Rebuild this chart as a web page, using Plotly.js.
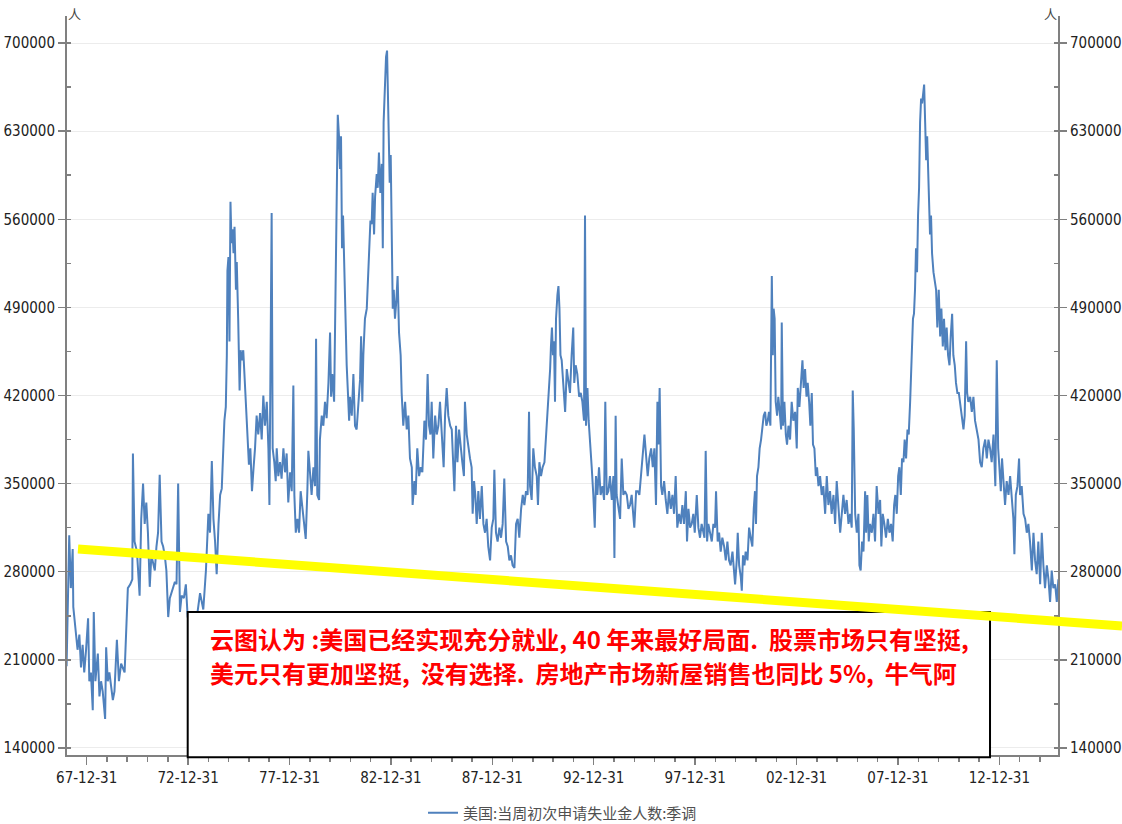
<!DOCTYPE html>
<html>
<head>
<meta charset="utf-8">
<script src="https://cdn.plot.ly/plotly-3.0.1.min.js"></script>
<style>html,body{margin:0;padding:0;background:#fff;}#chart{width:1122px;height:824px;}</style>
</head>
<body>
<div id="chart"></div>
<script>
// Week dates as decimal years
const years = [
1967.01,1967.14,1967.22,1967.31,1967.34,1967.44,1967.55,1967.64,1967.72,1967.80,1967.88,1967.97,
1968.07,1968.13,1968.21,1968.30,1968.35,1968.43,1968.55,1968.63,1968.71,1968.79,1968.91,1968.96,
1969.04,1969.12,1969.29,1969.37,1969.49,1969.59,1969.70,1969.87,1969.95,
1970.03,1970.15,1970.25,1970.28,1970.36,1970.48,1970.56,1970.61,1970.69,1970.78,1970.86,1970.94,
1971.02,1971.11,1971.19,1971.27,1971.36,1971.44,1971.52,1971.60,1971.69,1971.77,1971.85,1971.93,
1972.02,1972.10,1972.18,1972.26,1972.35,1972.43,1972.51,1972.60,1972.68,1972.79,1972.89,1972.98,
1973.20,1973.40,1973.59,1973.75,1973.88,
1974.00,1974.08,1974.17,1974.25,1974.33,1974.41,1974.50,1974.58,1974.66,1974.74,1974.79,1974.86,1974.91,1974.94,1974.99,
1975.04,1975.09,1975.14,1975.19,1975.24,1975.29,1975.36,1975.40,1975.47,1975.54,1975.59,1975.65,1975.72,1975.79,1975.87,1975.93,
1976.00,1976.07,1976.15,1976.23,1976.30,1976.38,1976.46,1976.55,1976.63,1976.71,1976.79,1976.88,1976.96,
1977.01,1977.12,1977.17,1977.25,1977.32,1977.37,1977.45,1977.53,1977.61,1977.70,1977.78,1977.86,1977.94,
1978.03,1978.11,1978.19,1978.24,1978.31,1978.39,1978.47,1978.55,1978.63,1978.73,1978.80,1978.88,1978.93,
1979.01,1979.09,1979.18,1979.26,1979.31,1979.37,1979.46,1979.50,1979.59,1979.67,1979.75,1979.83,1979.92,
1980.00,1980.05,1980.11,1980.20,1980.24,1980.29,1980.33,1980.38,1980.44,1980.49,1980.54,1980.59,1980.64,1980.71,1980.77,1980.82,1980.87,1980.94,1980.98,
1981.07,1981.15,1981.23,1981.31,1981.40,1981.48,1981.53,1981.59,1981.64,1981.72,1981.81,1981.89,1981.94,1981.99,
1982.05,1982.10,1982.17,1982.22,1982.30,1982.35,1982.41,1982.48,1982.55,1982.60,1982.64,1982.71,1982.76,1982.81,1982.86,1982.91,1982.94,1982.99,
1983.04,1983.09,1983.14,1983.20,1983.27,1983.33,1983.40,1983.48,1983.53,1983.61,1983.70,1983.78,1983.86,1983.94,
1984.03,1984.07,1984.16,1984.22,1984.30,1984.39,1984.47,1984.55,1984.65,1984.73,1984.81,1984.88,1984.95,
1985.01,1985.09,1985.18,1985.26,1985.34,1985.42,1985.50,1985.60,1985.67,1985.75,1985.83,1985.92,
1986.00,1986.08,1986.13,1986.21,1986.28,1986.36,1986.44,1986.52,1986.60,1986.65,1986.74,1986.82,1986.90,1986.98,
1987.03,1987.10,1987.16,1987.23,1987.31,1987.39,1987.48,1987.56,1987.64,1987.72,1987.80,1987.89,1987.97,
1988.05,1988.10,1988.18,1988.26,1988.35,1988.43,1988.51,1988.59,1988.68,1988.76,1988.84,1988.92,
1989.00,1989.09,1989.17,1989.25,1989.33,1989.42,1989.50,1989.58,1989.66,1989.74,1989.81,1989.86,1989.94,
1990.02,1990.10,1990.19,1990.25,1990.32,1990.40,1990.48,1990.57,1990.65,1990.73,1990.80,1990.85,1990.89,1990.94,1990.99,
1991.04,1991.09,1991.14,1991.21,1991.26,1991.31,1991.36,1991.42,1991.50,1991.59,1991.67,1991.75,1991.83,1991.91,1991.99,
1992.04,1992.11,1992.19,1992.28,1992.36,1992.44,1992.52,1992.57,1992.62,1992.69,1992.75,1992.82,1992.90,1992.98,
1993.05,1993.11,1993.18,1993.26,1993.34,1993.43,1993.51,1993.57,1993.64,1993.72,1993.80,1993.89,1993.97,
1994.02,1994.08,1994.13,1994.21,1994.30,1994.38,1994.46,1994.54,1994.63,1994.71,1994.79,1994.87,1994.95,
1995.00,1995.09,1995.17,1995.25,1995.33,1995.42,1995.50,1995.66,1995.74,1995.83,1995.91,1995.99,
1996.07,1996.14,1996.19,1996.25,1996.32,1996.38,1996.47,1996.55,1996.63,1996.71,1996.80,1996.88,1996.96,
1997.04,1997.12,1997.21,1997.29,1997.37,1997.45,1997.54,1997.60,1997.67,1997.75,1997.83,1997.91,1997.98,
1998.08,1998.16,1998.24,1998.32,1998.41,1998.46,1998.52,1998.59,1998.65,1998.73,1998.82,1998.90,1998.98,
1999.03,1999.11,1999.18,1999.26,1999.34,1999.43,1999.51,1999.59,1999.67,1999.75,1999.84,1999.92,1999.97,
2000.05,2000.10,2000.17,2000.25,2000.30,2000.36,2000.43,2000.49,2000.58,2000.66,2000.74,2000.82,2000.89,2000.95,
2001.00,2001.05,2001.12,2001.18,2001.25,2001.32,2001.38,2001.45,2001.51,2001.58,2001.64,2001.71,2001.78,2001.83,2001.87,2001.92,2001.97,
2002.04,2002.10,2002.17,2002.24,2002.27,2002.33,2002.40,2002.47,2002.53,2002.60,2002.68,2002.76,2002.84,2002.93,
2003.01,2003.06,2003.14,2003.22,2003.29,2003.35,2003.42,2003.49,2003.55,2003.62,2003.68,2003.75,2003.81,2003.88,2003.95,
2004.01,2004.08,2004.16,2004.24,2004.32,2004.41,2004.49,2004.57,2004.65,2004.73,2004.82,2004.90,2004.98,
2005.06,2005.15,2005.31,2005.39,2005.47,2005.56,2005.64,2005.72,2005.77,2005.82,2005.89,2005.97,
2006.05,2006.10,2006.16,2006.23,2006.30,2006.38,2006.43,2006.49,2006.56,2006.62,2006.71,2006.79,2006.87,2006.95,
2007.04,2007.12,2007.18,2007.25,2007.33,2007.41,2007.50,2007.58,2007.66,2007.74,2007.81,2007.87,2007.94,
2008.01,2008.07,2008.14,2008.20,2008.27,2008.33,2008.40,2008.47,2008.53,2008.60,2008.65,2008.70,2008.74,2008.79,2008.84,2008.89,2008.94,2008.99,
2009.04,2009.09,2009.14,2009.19,2009.24,2009.29,2009.34,2009.39,2009.44,2009.48,2009.53,2009.58,2009.63,2009.68,2009.75,2009.81,2009.88,2009.94,
2010.01,2010.08,2010.14,2010.21,2010.27,2010.34,2010.40,2010.47,2010.54,2010.60,2010.67,2010.73,2010.80,2010.86,2010.93,
2011.00,2011.06,2011.14,2011.23,2011.29,2011.36,2011.41,2011.47,2011.56,2011.64,2011.72,2011.80,2011.88,2011.97,
2012.05,2012.13,2012.21,2012.30,2012.38,2012.46,2012.54,2012.62,2012.71,2012.80,2012.87,2012.94,
2013.00,2013.07,2013.13,2013.20,2013.28,2013.36,2013.45,2013.53,2013.61,2013.69,2013.74,2013.81,2013.89,2013.97,
2014.02,2014.10,2014.19,2014.27,2014.35,2014.43,2014.51,2014.60,2014.68,2014.76,2014.84,2014.92,
2015.01,2015.09,2015.17,2015.25,2015.34,2015.42,2015.50,2015.58,2015.66,2015.75,2015.83,2015.91
];
// 美国:当周初次申请失业金人数:季调 (persons)
const claims = [
205000,309000,267000,298000,252000,237000,218000,230000,204000,222000,200000,218000,
243000,193000,200000,170000,248000,193000,215000,181000,193000,185000,163000,220000,
193000,200000,178000,185000,226000,193000,207000,200000,230000,
267000,270000,274000,374000,304000,296000,278000,261000,322000,350000,318000,335000,
311000,268000,293000,287000,281000,300000,311000,357000,304000,300000,293000,281000,
244000,259000,263000,267000,272000,270000,350000,248000,261000,259000,270000,244000,
235000,240000,263000,250000,281000,
326000,311000,368000,322000,304000,278000,318000,341000,346000,374000,400000,411000,452000,519000,530000,
463000,574000,541000,552000,533000,554000,504000,526000,481000,424000,456000,448000,456000,430000,404000,389000,
365000,378000,344000,363000,378000,404000,389000,406000,385000,420000,396000,415000,378000,
333000,565000,378000,367000,352000,378000,356000,367000,354000,378000,359000,374000,335000,
359000,344000,428000,341000,311000,322000,311000,344000,330000,315000,306000,344000,376000,
359000,341000,363000,348000,465000,341000,337000,385000,404000,396000,415000,402000,430000,
470000,419000,437000,415000,470000,518000,544000,643000,626000,600000,626000,537000,563000,511000,481000,444000,426000,400000,419000,
404000,437000,396000,393000,419000,433000,467000,415000,452000,481000,489000,518000,548000,559000,
556000,581000,548000,578000,596000,585000,613000,581000,604000,537000,637000,670000,689000,694000,656000,622000,589000,611000,
541000,489000,504000,481000,496000,515000,470000,452000,422000,396000,415000,393000,404000,370000,
363000,333000,352000,341000,378000,356000,363000,359000,400000,385000,437000,396000,389000,
415000,370000,404000,389000,396000,415000,393000,363000,404000,426000,404000,396000,
393000,359000,344000,396000,367000,393000,378000,367000,356000,415000,389000,378000,370000,363000,
326000,352000,341000,318000,344000,322000,348000,318000,311000,322000,300000,289000,315000,
322000,361000,311000,304000,315000,307000,318000,354000,304000,300000,289000,293000,
285000,283000,318000,322000,307000,330000,341000,333000,344000,341000,407000,348000,337000,
378000,363000,356000,333000,367000,356000,363000,367000,389000,404000,430000,441000,459000,474000,452000,
463000,415000,481000,500000,507000,489000,452000,448000,430000,407000,441000,430000,422000,452000,474000,
430000,444000,437000,419000,422000,415000,400000,563000,396000,426000,400000,378000,363000,341000,
315000,356000,341000,363000,341000,348000,337000,415000,341000,344000,356000,337000,356000,
291000,404000,341000,333000,322000,370000,341000,344000,341000,330000,333000,341000,326000,
315000,344000,344000,341000,356000,374000,389000,356000,370000,378000,363000,378000,
333000,415000,381000,426000,348000,341000,352000,337000,326000,344000,330000,341000,326000,
356000,315000,326000,318000,333000,318000,344000,304000,330000,315000,318000,326000,311000,
341000,315000,307000,318000,311000,307000,376000,304000,318000,311000,304000,318000,315000,
344000,304000,311000,296000,307000,300000,289000,304000,289000,285000,296000,278000,270000,
289000,311000,285000,276000,265000,293000,285000,296000,289000,315000,307000,300000,330000,344000,
318000,356000,363000,378000,385000,393000,404000,407000,396000,400000,407000,396000,515000,452000,489000,481000,415000,
404000,419000,407000,393000,478000,396000,415000,389000,381000,396000,385000,415000,400000,407000,
378000,426000,411000,430000,448000,426000,441000,419000,430000,415000,396000,422000,381000,378000,356000,
363000,348000,356000,341000,348000,326000,356000,333000,344000,326000,341000,318000,352000,
333000,311000,341000,326000,337000,318000,326000,315000,424000,393000,326000,311000,
326000,285000,281000,304000,296000,344000,311000,341000,304000,318000,311000,326000,304000,348000,
326000,337000,300000,326000,318000,307000,322000,311000,318000,304000,333000,341000,326000,
356000,363000,341000,370000,367000,385000,370000,393000,389000,415000,444000,452000,481000,485000,504000,537000,518000,563000,
585000,637000,656000,652000,659000,667000,637000,607000,626000,600000,570000,548000,563000,533000,518000,511000,504000,474000,
504000,467000,489000,459000,481000,456000,474000,452000,444000,467000,485000,452000,444000,430000,422000,
422000,415000,407000,393000,404000,463000,422000,415000,419000,407000,419000,400000,393000,385000,
367000,363000,378000,385000,370000,385000,378000,367000,389000,348000,448000,378000,
363000,344000,370000,356000,333000,352000,341000,356000,341000,322000,294000,341000,348000,370000,
341000,348000,326000,322000,311000,318000,304000,281000,311000,289000,278000,304000,
270000,311000,285000,267000,285000,274000,256000,281000,267000,270000,256000,274000
];
const seriesName = '美国:当周初次申请失业金人数:季调';
const tickYears = [1968,1973,1978,1983,1988,1993,1998,2003,2008,2013];
const tickLabels = ['67-12-31','72-12-31','77-12-31','82-12-31','87-12-31','92-12-31','97-12-31','02-12-31','07-12-31','12-12-31'];
const yTicks = [140000,210000,280000,350000,420000,490000,560000,630000,700000];
const unitLabel = '人';
const noteLine1 = '云图认为 :美国已经实现充分就业, 40 年来最好局面.  股票市场只有坚挺,';
const noteLine2 = '美元只有更加坚挺,  没有选择.  房地产市场新屋销售也同比 5%,  牛气阿';

const tickFont = {family: 'DejaVu Sans Condensed, Liberation Sans Narrow, Liberation Sans, sans-serif', size: 15, color: '#222'};
const axisGray = '#808080';

const traces = [
  {x: years, y: claims, type: 'scatter', mode: 'lines', name: seriesName,
   line: {color: '#4f81bd', width: 2}, hoverinfo: 'x+y'},
  {x: years, y: claims, type: 'scatter', mode: 'lines', yaxis: 'y2', showlegend: false,
   line: {color: 'rgba(0,0,0,0)', width: 0}, hoverinfo: 'skip'}
];

const yCommon = {
  range: [134400, 721500], tickmode: 'array', tickvals: yTicks, tickformat: 'd',
  ticks: 'outside', ticklen: 7, tickwidth: 1.5, tickcolor: axisGray,
  showline: true, linecolor: axisGray, linewidth: 2, zeroline: false, automargin: false,
  tickfont: tickFont,
  minor: {tickmode: 'linear', tick0: 140000, dtick: 35000, ticks: 'inside', ticklen: 4, tickwidth: 1.5, tickcolor: axisGray, showgrid: false}
};

const layout = {
  width: 1122, height: 824,
  margin: {l: 67, r: 64, t: 16, b: 69, pad: 0, autoexpand: false},
  paper_bgcolor: '#fff', plot_bgcolor: '#fff',
  showlegend: true,
  legend: {orientation: 'h', x: 0.5, xanchor: 'center', xref: 'paper', yref: 'container', y: 0.0133, yanchor: 'middle',
           font: {family: 'Noto Sans CJK SC, sans-serif', size: 15, color: '#505050'}, itemwidth: 30},
  xaxis: {
    range: [1967.03, 2015.89], tickmode: 'array', tickvals: tickYears, ticktext: tickLabels,
    ticks: 'outside', ticklen: 8, tickwidth: 1.5, tickcolor: axisGray,
    showline: true, linecolor: axisGray, linewidth: 2, showgrid: false, zeroline: false, automargin: false,
    tickfont: tickFont,
    minor: {tickmode: 'linear', tick0: 1968, dtick: 1, ticks: 'outside', ticklen: 5, tickwidth: 1.5, tickcolor: axisGray, showgrid: false}
  },
  yaxis: Object.assign({}, yCommon, {side: 'left', showgrid: true, gridcolor: '#ececec', gridwidth: 1}),
  yaxis2: Object.assign({}, yCommon, {side: 'right', overlaying: 'y', showgrid: false}),
  shapes: [
    {type: 'rect', xref: 'paper', yref: 'paper', x0: 0.1218, x1: 0.9314, y0: -0.003, y1: 0.1935,
     fillcolor: '#ffffff', line: {color: '#000000', width: 2}, layer: 'above'},
    {type: 'line', xref: 'paper', yref: 'paper', x0: 0.0111, y0: 0.2788, x1: 1.0646, y1: 0.1746,
     line: {color: '#ffff00', width: 9}, layer: 'above'}
  ],
  annotations: [
    {xref: 'paper', yref: 'paper', x: 0.0071, y: 1.003, text: unitLabel, showarrow: false,
     xanchor: 'center', yanchor: 'middle', font: {family: 'Noto Sans CJK SC, sans-serif', size: 13, color: '#444'}},
    {xref: 'paper', yref: 'paper', x: 0.992, y: 1.003, text: unitLabel, showarrow: false,
     xanchor: 'center', yanchor: 'middle', font: {family: 'Noto Sans CJK SC, sans-serif', size: 13, color: '#444'}},
    {xref: 'paper', yref: 'paper', x: 0.1423, y: 0.1583, text: noteLine1, showarrow: false,
     xanchor: 'left', yanchor: 'middle', align: 'left',
     font: {family: 'Noto Sans CJK SC, sans-serif', size: 24, color: '#ff0000', weight: 'bold'}},
    {xref: 'paper', yref: 'paper', x: 0.1423, y: 0.1123, text: noteLine2, showarrow: false,
     xanchor: 'left', yanchor: 'middle', align: 'left',
     font: {family: 'Noto Sans CJK SC, sans-serif', size: 24, color: '#ff0000', weight: 'bold'}}
  ]
};

Plotly.newPlot('chart', traces, layout, {displayModeBar: false, staticPlot: true});
</script>
</body>
</html>
